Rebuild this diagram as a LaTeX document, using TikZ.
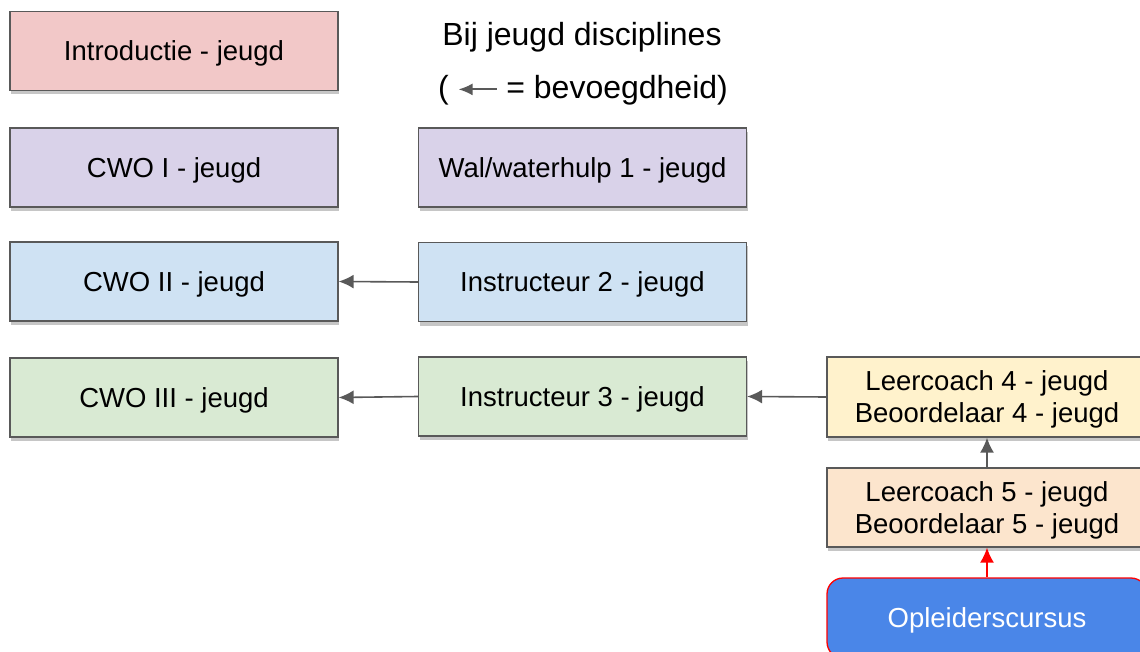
\documentclass[tikz,border=0pt]{standalone}
\usepackage{fontspec}
\setmainfont{Liberation Sans}
\usetikzlibrary{arrows.meta,shadows}
\definecolor{edgegray}{HTML}{595959}
\definecolor{cpink}{HTML}{F2C8C8}
\definecolor{clav}{HTML}{D9D2E9}
\definecolor{cblue}{HTML}{CFE2F3}
\definecolor{cgreen}{HTML}{D9EAD3}
\definecolor{cyellow}{HTML}{FFF2CC}
\definecolor{corange}{HTML}{FCE5CD}
\definecolor{cbtn}{HTML}{4A86E8}
\newcommand{\legendarrow}{\tikz[baseline=-0.3em,x=1pt,y=1pt]\draw[edgegray, line width=1.8pt, {Latex[length=14pt,width=12pt]}-] (0,0) -- (38,0);}
\begin{document}
\begin{tikzpicture}[x=1pt,y=-1pt,
  box/.style={draw=edgegray, line width=1.3pt, minimum width=328pt, minimum height=79pt,
    inner sep=0pt, align=center, text depth=0pt, font=\fontsize{27.5}{32}\selectfont,
    drop shadow={shadow xshift=1pt, shadow yshift=-4pt, opacity=0.45}},
  conn/.style={draw=edgegray, line width=1.6pt, -{Latex[length=15pt,width=14pt]}},
  title/.style={font=\fontsize{32}{38}\selectfont, inner sep=0pt, anchor=base}]
\useasboundingbox (0,0) rectangle (1140,652);
\node[box, fill=cpink] (intro) at (174,51) {Introductie - jeugd};
\node[box, fill=clav] (cwo1) at (174,167.5) {CWO I - jeugd};
\node[box, fill=clav] (wal) at (582.5,167.5) {Wal/waterhulp 1 - jeugd};
\node[box, fill=cblue] (cwo2) at (174,281.5) {CWO II - jeugd};
\node[box, fill=cblue] (ins2) at (582.5,282) {Instructeur 2 - jeugd};
\node[box, fill=cgreen] (cwo3) at (174,397.5) {CWO III - jeugd};
\node[box, fill=cgreen] (ins3) at (582.5,396.5) {Instructeur 3 - jeugd};
\node[box, fill=cyellow, minimum width=320pt, minimum height=80pt] (lc4) at (987,397) {Leercoach 4 - jeugd\\Beoordelaar 4 - jeugd};
\node[box, fill=corange, minimum width=320pt, minimum height=79pt] (lc5) at (987,507.5) {Leercoach 5 - jeugd\\Beoordelaar 5 - jeugd};
\node[box, draw=red, fill=cbtn, text=white, rounded corners=16pt, minimum width=320pt, minimum height=80pt] (opl) at (987,618) {Opleiderscursus};
\node[title] (t1) at (582,46) {Bij jeugd disciplines};
\node[title] (t2) at (583,99) {( \legendarrow{} = bevoegdheid)};
\draw[conn] (ins2.west) -- (cwo2.east);
\draw[conn] (ins3.west) -- (cwo3.east);
\draw[conn] (lc4.west) -- (ins3.east);
\draw[conn] (lc5.north) -- (lc4.south);
\draw[conn, draw=red] (opl.north) -- (lc5.south);
\end{tikzpicture}
\end{document}
